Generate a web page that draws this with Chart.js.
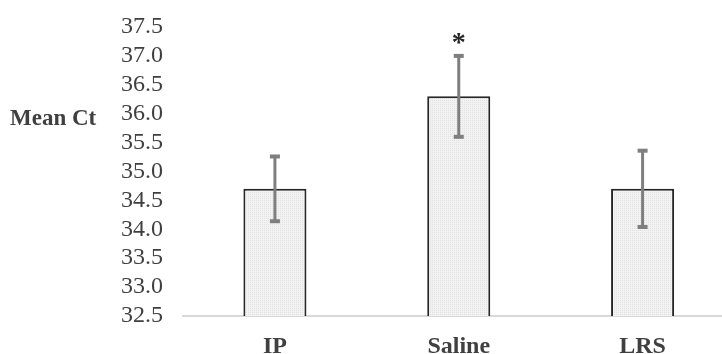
<!DOCTYPE html>
<html>
<head>
<meta charset="utf-8">
<script src="https://cdn.jsdelivr.net/npm/chart.js@4/dist/chart.umd.min.js"></script>
<style>
  html, body { margin: 0; padding: 0; background: #fff; overflow: hidden; }
  #wrap { width: 736px; height: 354px; }
</style>
</head>
<body>
<div id="wrap"><canvas id="bars" width="736" height="354"></canvas></div>
<script>
const groups = ["IP", "Saline", "LRS"];
const meanCt = [34.7, 36.3, 34.7];
const errCt = [0.56, 0.7, 0.66];
const marks = ["", "*", ""];
const yTicks = [32.5, 33.0, 33.5, 34.0, 34.5, 35.0, 35.5, 36.0, 36.5, 37.0, 37.5];

// dotted light-grey fill like the original
function makeFill() {
  const c = document.createElement("canvas");
  c.width = 2;
  c.height = 2;
  const g = c.getContext("2d");
  g.fillStyle = "#f2f2f2";
  g.fillRect(0, 0, 2, 2);
  g.fillStyle = "#e2e2e2";
  g.fillRect(0, 0, 1, 1);
  return g.createPattern(c, "repeat");
}

const errorBars = {
  id: "errorBars",
  afterDatasetsDraw(chart) {
    const ctx = chart.ctx;
    const y = chart.scales.y;
    const meta = chart.getDatasetMeta(0);
    ctx.save();
    meta.data.forEach((bar, i) => {
      const hi = y.getPixelForValue(meanCt[i] + errCt[i]);
      const lo = y.getPixelForValue(meanCt[i] - errCt[i]);
      ctx.strokeStyle = "#7f7f7f";
      ctx.lineWidth = 3;
      ctx.beginPath();
      ctx.moveTo(bar.x, hi);
      ctx.lineTo(bar.x, lo);
      ctx.stroke();
      ctx.fillStyle = "#7f7f7f";
      ctx.fillRect(bar.x - 5, hi - 2, 10, 4);
      ctx.fillRect(bar.x - 5, lo - 2, 10, 4);
      if (marks[i]) {
        ctx.fillStyle = "#262626";
        ctx.font = "bold 28px 'Liberation Serif'";
        ctx.textAlign = "center";
        ctx.textBaseline = "alphabetic";
        ctx.fillText(marks[i], bar.x, hi - 5);
      }
    });
    // horizontal axis title on the left
    ctx.fillStyle = "#404040";
    ctx.font = "bold 23px 'Liberation Serif'";
    ctx.textAlign = "left";
    ctx.textBaseline = "middle";
    ctx.fillText("Mean Ct", 10, y.getPixelForValue(36.0) + 5);
    ctx.restore();
  },
};

const barConfig = {
  type: "bar",
  data: {
    labels: groups,
    datasets: [
      {
        data: meanCt,
        backgroundColor: makeFill(),
        borderColor: "#262626",
        borderWidth: 2,
        borderSkipped: "bottom",
        barPercentage: 0.343,
        categoryPercentage: 1,
      },
    ],
  },
  options: {
    responsive: false,
    animation: false,
    layout: { padding: { top: 27, right: 1.5, left: 0, bottom: 0 } },
    plugins: {
      legend: { display: false },
      tooltip: { enabled: false },
    },
    scales: {
      x: {
        grid: { display: false, drawTicks: false },
        border: { color: "#d9d9d9", width: 2 },
        ticks: {
          padding: 16,
          color: "#404040",
          font: { family: "Liberation Serif", size: 24, weight: "bold" },
        },
        afterFit(scale) {
          scale.height = 38;
        },
      },
      y: {
        min: 32.5,
        max: 37.5,
        grid: { display: false, drawTicks: false },
        border: { display: false },
        afterBuildTicks(scale) {
          scale.ticks = yTicks.map((v) => ({ value: v }));
        },
        ticks: {
          autoSkip: false,
          padding: 20,
          color: "#404040",
          font: { family: "Liberation Serif", size: 24, lineHeight: 0.4 },
          callback: (v) => Number(v).toFixed(1),
        },
        afterFit(scale) {
          scale.width = 183;
        },
      },
    },
  },
  plugins: [errorBars],
};

const barsCtx = document.getElementById("bars");
window.myBar = new Chart(barsCtx, barConfig);
</script>
</body>
</html>
